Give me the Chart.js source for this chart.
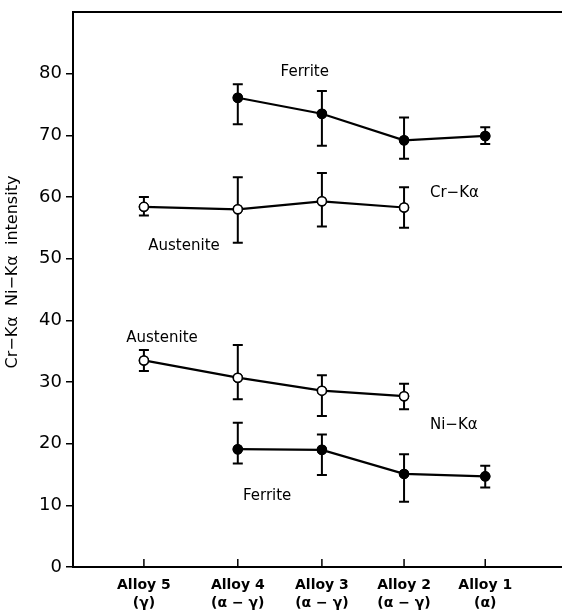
<!DOCTYPE html>
<html>
<head>
<meta charset="utf-8">
<script src="https://cdn.jsdelivr.net/npm/chart.js@4"></script>
<style>
  html, body { margin: 0; padding: 0; background: #fff; overflow: hidden; }
  #wrap { width: 562px; height: 615px; position: relative; }
  canvas { display: block; }
</style>
</head>
<body>
<div id="wrap"><canvas id="chart"></canvas></div>
<script>
// alloy order and position along the x axis (arbitrary composition units)
const alloys = ['Alloy 5', 'Alloy 4', 'Alloy 3', 'Alloy 2', 'Alloy 1'];
const phases = ['(γ)', '(α − γ)', '(α − γ)', '(α − γ)', '(α)'];
const alloyX = [1.45, 3.37, 5.09, 6.77, 8.43];

const yTicks = [0, 10, 20, 30, 40, 50, 60, 70, 80];

// Cr-Ka, ferrite (alloys 4..1)
const crFerrite = [76.1, 73.5, 69.2, 69.9];
const crFerriteHi = [78.3, 77.2, 72.9, 71.3];
const crFerriteLo = [71.8, 68.3, 66.2, 68.6];

// Cr-Ka, austenite (alloys 5..2)
const crAustenite = [58.4, 58.0, 59.3, 58.3];
const crAusteniteHi = [60.0, 63.2, 63.9, 61.6];
const crAusteniteLo = [57.0, 52.6, 55.2, 55.0];

// Ni-Ka, austenite (alloys 5..2)
const niAustenite = [33.5, 30.7, 28.6, 27.7];
const niAusteniteHi = [35.2, 36.0, 31.1, 29.7];
const niAusteniteLo = [31.8, 27.2, 24.5, 25.6];

// Ni-Ka, ferrite (alloys 4..1)
const niFerrite = [19.1, 19.0, 15.1, 14.7];
const niFerriteHi = [23.4, 21.5, 18.3, 16.4];
const niFerriteLo = [16.8, 14.9, 10.6, 12.9];

const FONT = '"DejaVu Sans", sans-serif';

function series(xs, ys, hi, lo, filled) {
  return {
    data: ys.map((y, i) => ({ x: xs[i], y, hi: hi[i], lo: lo[i] })),
    borderColor: '#000',
    borderWidth: 2.2,
    pointRadius: 4.5,
    pointBorderWidth: 1.5,
    pointBackgroundColor: filled ? '#000' : '#fff',
    pointBorderColor: '#000',
    showLine: true,
    tension: 0,
  };
}

const ferriteX = alloyX.slice(1);
const austeniteX = alloyX.slice(0, 4);

// text placed inside the plot, in data units
const notes = [
  { text: 'Ferrite', x: 4.74, y: 80.2, align: 'center' },
  { text: 'Cr−Kα', x: 7.30, y: 60.6, align: 'left' },
  { text: 'Austenite', x: 2.27, y: 52.0, align: 'center' },
  { text: 'Austenite', x: 1.82, y: 37.1, align: 'center' },
  { text: 'Ni−Kα', x: 7.30, y: 23.0, align: 'left' },
  { text: 'Ferrite', x: 3.97, y: 11.5, align: 'center' },
];

const errorBars = {
  id: 'errorBars',
  afterDatasetsDraw(chart) {
    const { ctx, scales: { x, y } } = chart;
    ctx.save();
    ctx.strokeStyle = '#000';
    ctx.lineWidth = 2;
    chart.data.datasets.forEach((ds) => {
      ds.data.forEach((p) => {
        const px = x.getPixelForValue(p.x);
        const top = y.getPixelForValue(p.hi);
        const bot = y.getPixelForValue(p.lo);
        ctx.beginPath();
        ctx.moveTo(px, top); ctx.lineTo(px, bot);
        ctx.moveTo(px - 5, top); ctx.lineTo(px + 5, top);
        ctx.moveTo(px - 5, bot); ctx.lineTo(px + 5, bot);
        ctx.stroke();
      });
    });
    // redraw points over the bars
    chart.data.datasets.forEach((ds, i) => {
      chart.getDatasetMeta(i).data.forEach((el) => el.draw(ctx));
    });
    ctx.restore();
  },
};

const decorations = {
  id: 'decorations',
  afterDraw(chart) {
    const { ctx, chartArea, scales: { x, y } } = chart;
    ctx.save();
    // inward x ticks
    ctx.strokeStyle = '#000';
    ctx.lineWidth = 1.5;
    alloyX.forEach((v) => {
      const px = x.getPixelForValue(v);
      ctx.beginPath();
      ctx.moveTo(px, chartArea.bottom);
      ctx.lineTo(px, chartArea.bottom - 8);
      ctx.stroke();
    });
    // notes
    ctx.fillStyle = '#000';
    ctx.font = '15px ' + FONT;
    ctx.textBaseline = 'middle';
    notes.forEach((n) => {
      ctx.textAlign = n.align;
      ctx.fillText(n.text, x.getPixelForValue(n.x), y.getPixelForValue(n.y));
    });
    // y title
    ctx.translate(13, 272);
    ctx.rotate(-Math.PI / 2);
    ctx.textAlign = 'center';
    ctx.font = '16px ' + FONT;
    ctx.fillText('Cr−Kα  Ni−Kα  intensity', 0, 0);
    ctx.restore();
  },
};

new Chart(document.getElementById('chart'), {
  type: 'scatter',
  data: {
    datasets: [
      series(ferriteX, crFerrite, crFerriteHi, crFerriteLo, true),
      series(austeniteX, crAustenite, crAusteniteHi, crAusteniteLo, false),
      series(austeniteX, niAustenite, niAusteniteHi, niAusteniteLo, false),
      series(ferriteX, niFerrite, niFerriteHi, niFerriteLo, true),
    ],
  },
  options: {
    responsive: true,
    maintainAspectRatio: false,
    animation: false,
    layout: { autoPadding: false, padding: { top: 12, right: 0, left: 0, bottom: 0 } },
    plugins: {
      legend: { display: false },
      tooltip: { enabled: false },
    },
    scales: {
      x: {
        type: 'linear',
        min: 0,
        max: 10,
        afterBuildTicks: (s) => { s.ticks = alloyX.map((v) => ({ value: v })); },
        afterFit: (s) => { s.height = 48; s.paddingLeft = 0; s.paddingRight = 0; },
        ticks: {
          color: '#000',
          font: { family: FONT, size: 14, weight: 'bold', lineHeight: 1.25 },
          padding: 10,
          maxRotation: 0,
          autoSkip: false,
          callback: (v, i) => [alloys[i], phases[i]],
        },
        grid: { display: false, drawTicks: false },
        border: { display: true, color: '#000', width: 2 },
      },
      xTop: {
        type: 'linear',
        position: 'top',
        min: 0,
        max: 10,
        ticks: { display: false },
        grid: { display: false, drawTicks: false },
        border: { display: true, color: '#000', width: 2 },
        afterFit: (s) => { s.height = 0; s.paddingLeft = 0; s.paddingRight = 0; },
      },
      y: {
        min: 0,
        max: 90,
        afterBuildTicks: (s) => { s.ticks = yTicks.map((v) => ({ value: v })); },
        afterFit: (s) => { s.width = 73; s.paddingTop = 0; s.paddingBottom = 0; },
        ticks: {
          color: '#000',
          font: { family: FONT, size: 18 },
          padding: 4,
        },
        grid: {
          drawOnChartArea: false,
          drawTicks: true,
          tickLength: 7,
          color: '#000',
          lineWidth: 1.5,
        },
        border: { display: true, color: '#000', width: 2 },
      },
    },
  },
  plugins: [errorBars, decorations],
});
</script>
</body>
</html>
